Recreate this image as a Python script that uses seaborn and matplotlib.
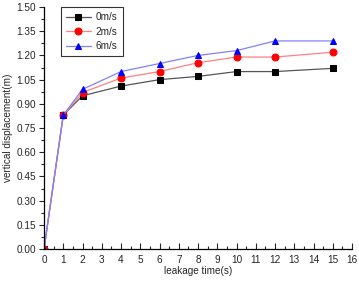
import matplotlib
matplotlib.use("Agg")
import matplotlib.pyplot as plt
import seaborn as sns
import pandas as pd
from matplotlib.ticker import MultipleLocator

time_s = [0, 1, 2, 4, 6, 8, 10, 12, 15]
disp_0 = [0.00, 0.83, 0.95, 1.01, 1.05, 1.07, 1.10, 1.10, 1.12]
disp_2 = [0.00, 0.83, 0.97, 1.06, 1.10, 1.155, 1.19, 1.19, 1.22]
disp_6 = [0.00, 0.83, 0.99, 1.10, 1.15, 1.20, 1.23, 1.29, 1.29]
labels = ["0m/s", "2m/s", "6m/s"]

rows = []
for lab, vals in zip(labels, [disp_0, disp_2, disp_6]):
    for t, v in zip(time_s, vals):
        rows.append({"time": t, "disp": v, "speed": lab})
df = pd.DataFrame(rows)

sns.set_style("white")
plt.rcParams["font.family"] = ["Liberation Sans", "DejaVu Sans"]

fig = plt.figure(figsize=(3.59, 2.81), dpi=100)
ax = fig.add_axes([0.1226, 0.1139, 0.858, 0.861])

line_colors = {"0m/s": "#555555", "2m/s": "#ff8080", "6m/s": "#8080ff"}
marker_colors = {"0m/s": "black", "2m/s": "red", "6m/s": "blue"}
markers = {"0m/s": "s", "2m/s": "o", "6m/s": "^"}

for lab in labels:
    sub = df[df["speed"] == lab]
    sns.lineplot(data=sub, x="time", y="disp", ax=ax, color=line_colors[lab],
                 marker=markers[lab], markersize=5, markerfacecolor=marker_colors[lab],
                 markeredgecolor=marker_colors[lab], linewidth=0.9, label=lab)

ax.set_xlim(0, 16)
ax.set_ylim(0, 1.5)
ax.xaxis.set_major_locator(MultipleLocator(1))
ax.xaxis.set_minor_locator(MultipleLocator(0.5))
ax.yaxis.set_major_locator(MultipleLocator(0.15))
ax.yaxis.set_minor_locator(MultipleLocator(0.075))
ax.set_yticklabels([f"{v:.2f}" for v in ax.get_yticks()])

for s in ["top", "right"]:
    ax.spines[s].set_visible(False)
for s in ["left", "bottom"]:
    ax.spines[s].set_color("black")
    ax.spines[s].set_linewidth(0.9)

fs = 7.2
ax.tick_params(axis="x", which="major", direction="in", length=4, width=0.8, labelsize=fs, pad=4, bottom=True)
ax.tick_params(axis="x", which="minor", direction="in", length=2, width=0.8, bottom=True)
ax.tick_params(axis="y", which="major", direction="out", length=3.5, width=0.8, labelsize=fs, pad=2, left=True)
ax.tick_params(axis="y", which="minor", direction="out", length=2, width=0.8, left=True)

ax.set_xlabel("leakage time(s)", fontsize=fs, labelpad=1)
ax.set_ylabel("vertical displacement(m)", fontsize=fs, labelpad=3)

leg = ax.legend(loc="upper left", bbox_to_anchor=(0.045, 1.012), frameon=True, fontsize=fs,
                handlelength=2.5, borderpad=0.5, labelspacing=0.45, handletextpad=0.5,
                borderaxespad=0.3, fancybox=False, edgecolor="black")
leg.get_frame().set_linewidth(0.8)

fig.savefig("out.png", dpi=100)
